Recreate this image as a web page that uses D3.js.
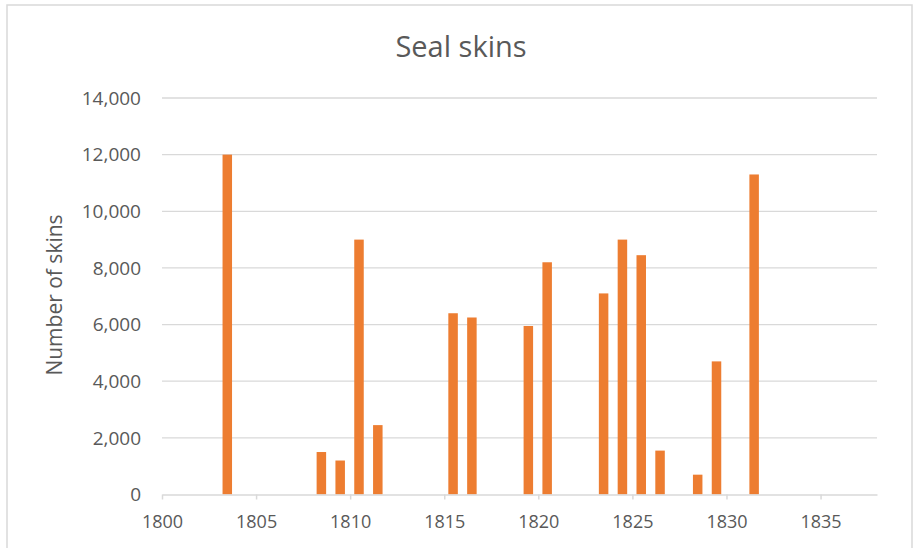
<!DOCTYPE html>
<html>
<head>
<meta charset="utf-8">
<script src="https://cdn.jsdelivr.net/npm/d3@7/dist/d3.min.js"></script>
<style>
  body { margin: 0; background: #fff; }
  text { font-family: "Open Sans", "Noto Sans", sans-serif; fill: #595959; }
</style>
</head>
<body>
<svg id="chart" width="913" height="548"></svg>
<script>
// data
const years = [1803, 1808, 1809, 1810, 1811, 1815, 1816, 1819, 1820, 1823, 1824, 1825, 1826, 1828, 1829, 1831];
const skins = [12000, 1500, 1200, 9000, 2450, 6400, 6250, 5950, 8200, 7100, 9000, 8450, 1550, 700, 4700, 11300];
const xTicks = [1800, 1805, 1810, 1815, 1820, 1825, 1830, 1835];
const yTicks = [0, 2000, 4000, 6000, 8000, 10000, 12000, 14000];

const svg = d3.select("#chart");

// chart border
svg.append("rect")
    .attr("x", 7).attr("y", 5)
    .attr("width", 905).attr("height", 560)
    .attr("fill", "#fff")
    .attr("stroke", "#d9d9d9").attr("stroke-width", 1.5);

const margin = {top: 98, left: 162, right: 877, bottom: 494.5};

const x = d3.scaleLinear().domain([1800, 1838]).range([margin.left, margin.right]);
const y = d3.scaleLinear().domain([0, 14000]).range([margin.bottom, margin.top]);

// gridlines
svg.append("g")
    .selectAll("line")
    .data(yTicks.filter(d => d > 0))
    .enter().append("line")
        .attr("x1", margin.left).attr("x2", margin.right)
        .attr("y1", d => y(d)).attr("y2", d => y(d))
        .attr("stroke", "#d9d9d9").attr("stroke-width", 1.3);

// y tick labels
svg.append("g")
    .selectAll("text")
    .data(yTicks)
    .enter().append("text")
        .attr("x", 141)
        .attr("y", d => y(d))
        .attr("dy", "0.36em")
        .attr("text-anchor", "end")
        .style("font-size", "19px")
        .text(d => d3.format(",")(d));

// bars
const bw = 9.5;
svg.append("g")
    .selectAll("rect")
    .data(years.map((yr, i) => ({yr, v: skins[i]})))
    .enter().append("rect")
        .attr("x", d => x(d.yr + 0.47) - bw / 2)
        .attr("y", d => y(d.v))
        .attr("width", bw)
        .attr("height", d => y(0) - y(d.v))
        .attr("fill", "#ed7d31");

// x axis
const xAxis = svg.append("g")
    .attr("transform", `translate(0,${y(0)})`)
    .call(d3.axisBottom(x).tickValues(xTicks).tickFormat(d3.format("d")).tickSize(5).tickSizeOuter(0));
xAxis.select(".domain").attr("stroke", "#d9d9d9").attr("stroke-width", 1.5);
xAxis.selectAll(".tick line").attr("stroke", "#d9d9d9").attr("stroke-width", 1.5);
xAxis.selectAll(".tick text")
    .attr("y", 33.5)
    .attr("dy", 0)
    .attr("fill", "#595959")
    .style("font-size", "18px")
    .style("font-family", '"Open Sans", "Noto Sans", sans-serif');

// axis title
svg.append("text")
    .attr("transform", "translate(62,295) rotate(-90)")
    .attr("text-anchor", "middle")
    .style("font-size", "21px")
    .text("Number of skins");

// chart title
svg.append("text")
    .attr("x", 461).attr("y", 57)
    .attr("text-anchor", "middle")
    .style("font-size", "29px")
    .text("Seal skins");
</script>
</body>
</html>
